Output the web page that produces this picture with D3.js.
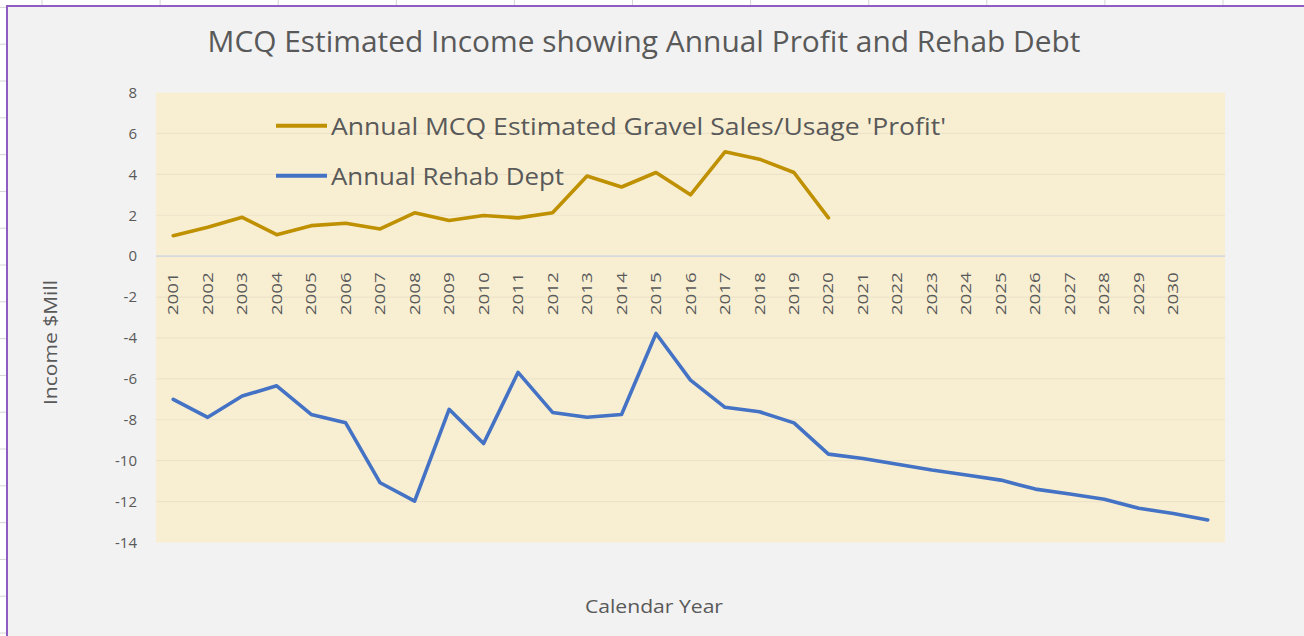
<!DOCTYPE html>
<html>
<head>
<meta charset="utf-8">
<script src="https://cdn.jsdelivr.net/npm/d3@7"></script>
<style>
  html, body { margin: 0; padding: 0; background: #ffffff; }
  svg { display: block; font-family: "Open Sans", "Noto Sans", sans-serif; }
</style>
</head>
<body>
<svg id="chart" width="1304" height="636"></svg>
<script>
// categories along the bottom (last slot has no label)
const categories = ["2001","2002","2003","2004","2005","2006","2007","2008","2009","2010",
                    "2011","2012","2013","2014","2015","2016","2017","2018","2019","2020",
                    "2021","2022","2023","2024","2025","2026","2027","2028","2029","2030",""]
// Annual MCQ Estimated Gravel Sales/Usage 'Profit' ($Mill), 2001-2020
const profit = [1.0, 1.41, 1.9, 1.05, 1.49, 1.61, 1.33, 2.12, 1.74, 1.99,
                1.87, 2.12, 3.92, 3.38, 4.09, 3.0, 5.1, 4.74, 4.09, 1.87]
// Annual Rehab Dept ($Mill)
const rehab = [-7.0, -7.88, -6.84, -6.34, -7.74, -8.15, -11.08, -11.98, -7.49, -9.16,
               -5.68, -7.64, -7.88, -7.74, -3.78, -6.06, -7.39, -7.61, -8.15, -9.68,
               -9.89, -10.17, -10.46, -10.7, -10.95, -11.39, -11.63, -11.89, -12.33, -12.58, -12.9]
const yTicks = [8, 6, 4, 2, 0, -2, -4, -6, -8, -10, -12, -14]
const seriesNames = ["Annual MCQ Estimated Gravel Sales/Usage 'Profit'", "Annual Rehab Dept"]

const svg = d3.select("#chart")
const TEXT = "#595959"
const GOLD = "#bf9000"
const BLUE = "#4472c4"

// spreadsheet behind the chart
svg.append("rect").attr("width", 1304).attr("height", 636).attr("fill", "#ffffff")
svg.append("g").selectAll("line")
    .data(d3.range(42, 1304, 118.1))
    .join("line")
    .attr("x1", d => d).attr("x2", d => d)
    .attr("y1", 0).attr("y2", 6)
    .attr("stroke", "#d4d4d4")
svg.append("g").selectAll("line")
    .data(d3.range(7.4, 636, 36.8))
    .join("line")
    .attr("x1", 0).attr("x2", 7)
    .attr("y1", d => d).attr("y2", d => d)
    .attr("stroke", "#d4d4d4")

// chart area + selection border
svg.append("rect").attr("x", 7).attr("y", 6).attr("width", 1297).attr("height", 630).attr("fill", "#f2f2f2")
svg.append("line").attr("x1", 6).attr("x2", 1304).attr("y1", 6).attr("y2", 6)
    .attr("stroke", "#8e5cc2").attr("stroke-width", 2)
svg.append("line").attr("x1", 7).attr("x2", 7).attr("y1", 5).attr("y2", 636)
    .attr("stroke", "#8e5cc2").attr("stroke-width", 2)

// scales
const PL = 156, PR = 1225, PT = 92.5, PB = 542.5
let x = d3.scaleBand()
    .domain(categories)
    .range([PL, PR])
    .padding(0)
let y = d3.scaleLinear()
    .domain([-14, 8])
    .range([PB, PT])
const cx = d => x(d) + x.bandwidth() / 2

// plot area
svg.append("rect")
    .attr("x", PL).attr("y", PT)
    .attr("width", PR - PL).attr("height", PB - PT)
    .attr("fill", "#f8efd3")

// gridlines
svg.append("g").selectAll("line")
    .data(yTicks.filter(t => t !== 8 && t !== 0 && t !== -14))
    .join("line")
    .attr("x1", PL).attr("x2", PR)
    .attr("y1", d => y(d)).attr("y2", d => y(d))
    .attr("stroke", "#ece3c9")
    .attr("stroke-width", 1.2)

// zero (category) axis line
svg.append("line")
    .attr("x1", PL).attr("x2", PR)
    .attr("y1", y(0)).attr("y2", y(0))
    .attr("stroke", "#d6d8dc")
    .attr("stroke-width", 1.6)

// y axis (plain hyphen for negatives, like Excel)
let yAxis = svg.append("g")
    .attr("transform", "translate(" + PL + ",0)")
    .call(d3.axisLeft(y).tickValues(yTicks).tickFormat(d => String(d)).tickSize(0).tickPadding(19))
yAxis.select(".domain").remove()
yAxis.selectAll("text")
    .style("font-size", "15px")
    .style("font-family", "'Open Sans', sans-serif")
    .attr("fill", TEXT)

// x axis (labels sit just under the zero line, rotated)
let xAxis = svg.append("g")
    .attr("transform", "translate(0," + y(0) + ")")
    .call(d3.axisBottom(x).tickSize(0))
xAxis.select(".domain").remove()
xAxis.selectAll("text")
    .attr("transform", "rotate(-90)")
    .attr("x", -16)
    .attr("y", 0)
    .attr("dy", "0.36em")
    .attr("textLength", d => d === "" ? null : 43)
    .attr("lengthAdjust", "spacingAndGlyphs")
    .style("text-anchor", "end")
    .style("font-size", "14px")
    .style("font-family", "'Open Sans', sans-serif")
    .attr("fill", TEXT)

// series lines
let line = d3.line()
    .x((d, i) => cx(categories[i]))
    .y(d => y(d))

svg.append("path")
    .datum(rehab)
    .attr("d", line)
    .attr("fill", "none")
    .attr("stroke", BLUE)
    .attr("stroke-width", 3.6)
    .attr("stroke-linejoin", "round")
    .attr("stroke-linecap", "round")

svg.append("path")
    .datum(profit)
    .attr("d", line)
    .attr("fill", "none")
    .attr("stroke", GOLD)
    .attr("stroke-width", 3.6)
    .attr("stroke-linejoin", "round")
    .attr("stroke-linecap", "round")

// legend
const legendColors = [GOLD, BLUE]
const legendWidths = [615, 233]
let legend = svg.append("g").selectAll("g")
    .data(seriesNames)
    .join("g")
    .attr("transform", (d, i) => "translate(0," + (125.7 + i * 50) + ")")
legend.append("line")
    .attr("x1", 276).attr("x2", 327)
    .attr("stroke", (d, i) => legendColors[i])
    .attr("stroke-width", 4)
legend.append("text")
    .attr("x", 331)
    .attr("y", 9)
    .text(d => d)
    .attr("textLength", (d, i) => legendWidths[i])
    .attr("lengthAdjust", "spacingAndGlyphs")
    .attr("fill", TEXT)
    .style("font-size", "24px")

// titles
svg.append("text")
    .attr("x", 644).attr("y", 52)
    .attr("text-anchor", "middle")
    .attr("textLength", 873)
    .attr("lengthAdjust", "spacingAndGlyphs")
    .attr("fill", TEXT)
    .style("font-size", "29px")
    .text("MCQ Estimated Income showing Annual Profit and Rehab Debt")

svg.append("text")
    .attr("transform", "translate(57,342.5) rotate(-90)")
    .attr("text-anchor", "middle")
    .attr("textLength", 125)
    .attr("lengthAdjust", "spacingAndGlyphs")
    .attr("fill", TEXT)
    .style("font-size", "18px")
    .text("Income $Mill")

svg.append("text")
    .attr("x", 654).attr("y", 613)
    .attr("text-anchor", "middle")
    .attr("textLength", 138)
    .attr("lengthAdjust", "spacingAndGlyphs")
    .attr("fill", TEXT)
    .style("font-size", "18px")
    .text("Calendar Year")
</script>
</body>
</html>
